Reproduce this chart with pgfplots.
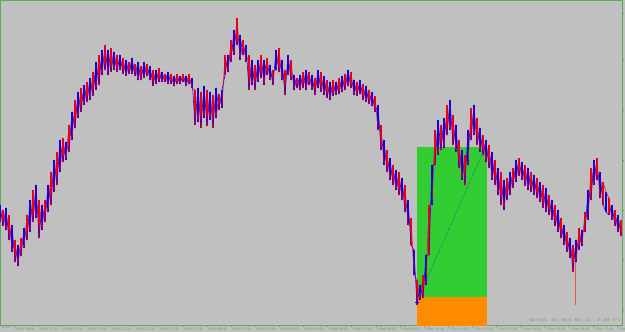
\documentclass[border=0pt]{standalone}
\usepackage{pgfplots}
\pgfplotsset{compat=1.18}
\usepackage{pgfplotstable}
\usepackage{fontspec}
\setmainfont{Liberation Sans}
\newfontfamily\monofont{Liberation Mono}
\definecolor{bg}{HTML}{C0C0C0}
\definecolor{axgreen}{HTML}{5DAA5D}
\definecolor{lgreen}{HTML}{32CD32}
\definecolor{dorange}{HTML}{FF8C00}
\definecolor{mtblue}{HTML}{0000FF}
\definecolor{mtred}{HTML}{FF0000}

\pgfplotstableread{
x t b
0 205 222
3 210 226
6 208 230
9 215 240
12 225 252
15 240 262
18 245 266
21 238 256
24 228 248
27 215 240
30 200 232
33 190 222
36 185 218
39 200 238
42 205 230
45 200 222
48 185 212
51 172 205
54 160 192
57 152 185
60 140 172
63 138 162
66 142 160
69 125 152
72 112 140
75 100 128
78 92 118
81 88 112
84 85 105
87 82 102
90 78 100
93 72 96
96 62 90
99 55 85
102 50 75
105 45 70
108 50 75
111 48 72
114 52 70
117 55 72
120 55 70
123 58 74
126 60 76
129 62 74
132 58 74
135 64 76
138 62 80
141 66 80
144 62 78
147 64 76
150 66 80
153 70 86
156 70 84
159 68 82
162 72 82
165 74 82
168 72 84
171 74 84
174 76 86
177 74 84
180 76 84
183 74 82
186 76 86
189 74 84
192 78 88
195 90 125
198 88 122
201 92 128
204 86 118
207 90 126
210 92 120
213 95 128
216 88 118
219 94 110
222 90 108
225 55 75
228 55 72
231 40 62
234 30 55
237 18 45
240 35 60
243 40 55
246 45 62
249 55 90
252 60 85
255 65 90
258 60 82
261 55 78
264 60 85
267 58 75
270 65 80
273 70 85
276 50 70
279 48 72
282 60 80
285 70 95
288 55 75
291 60 80
294 75 90
297 78 88
300 75 90
303 72 88
306 70 90
309 72 85
312 75 90
315 78 95
318 70 88
321 72 92
324 76 95
327 80 98
330 82 100
333 80 96
336 82 95
339 78 94
342 76 92
345 74 90
348 70 86
351 72 88
354 80 95
357 82 96
360 80 94
363 84 100
366 86 102
369 90 104
372 92 106
375 96 112
378 105 130
381 125 150
384 140 165
387 150 172
390 158 180
393 165 185
396 170 190
399 172 195
402 178 200
405 185 212
408 200 225
411 218 245
414 250 275
417 280 305
420 285 300
423 275 298
426 255 285
429 205 255
432 165 205
435 130 165
438 120 155
441 125 150
444 118 148
447 105 135
450 100 130
453 115 145
456 125 152
459 140 168
462 150 180
465 155 185
468 130 165
471 108 140
474 105 135
477 118 145
480 128 152
483 135 155
486 140 162
489 145 168
492 152 180
495 160 185
498 168 195
501 172 205
504 180 210
507 178 200
510 172 195
513 168 188
516 160 182
519 158 176
522 162 180
525 165 186
528 168 190
531 172 192
534 175 195
537 178 198
540 182 202
543 185 208
546 188 212
549 195 215
552 200 220
555 205 226
558 210 232
561 218 238
564 225 245
567 232 252
570 238 258
573 245 272
576 240 262
579 228 250
582 230 246
585 212 232
588 190 220
591 168 200
594 160 185
597 158 180
600 172 198
603 182 205
606 192 212
609 198 215
612 205 220
615 210 226
618 215 232
621 220 236
}\pricedata

\begin{document}
\begin{tikzpicture}
\fill[bg] (0,-7pt) rectangle (625pt,325pt);
\useasboundingbox (0,-7pt) rectangle (625pt,325pt);
\begin{axis}[
  at={(0,0)}, anchor=south west,
  scale only axis, width=622pt, height=325pt,
  xmin=0, xmax=622, ymin=0, ymax=325,
  y dir=reverse,
  axis line style={axgreen, line width=0.8pt},
  xtick={14,38.12,62.24,86.36,110.48,134.6,158.72,182.84,206.96,231.08,255.2,279.32,303.44,327.56,351.68,375.8,399.92,424.04,448.16,472.28,496.4,520.52,544.64,568.76,592.88,617},
  xticklabels={4 Dec 16:08,4 Dec 17:12,4 Dec 18:16,4 Dec 19:20,4 Dec 20:24,4 Dec 21:28,4 Dec 22:32,4 Dec 23:36,5 Dec 00:40,5 Dec 01:44,5 Dec 02:48,5 Dec 03:52,5 Dec 04:56,5 Dec 06:00,5 Dec 07:04,5 Dec 08:08,5 Dec 09:12,5 Dec 10:16,5 Dec 11:20,5 Dec 12:24,5 Dec 13:28,5 Dec 14:32,5 Dec 15:36,5 Dec 16:40,5 Dec 17:44,5 Dec 18:48},
  xticklabel style={anchor=north west, font=\fontsize{3.6}{4}\selectfont, text=axgreen, inner sep=0pt, yshift=-1.2pt, xshift=0.8pt},
  xtick pos=bottom, ytick pos=right,
  ytick={13,60,110,160,210,260,310}, yticklabels={},
  tick align=outside, major tick length=2pt,
  tick style={axgreen, line width=0.6pt},
  clip=true,
]
% trade zones
\addplot[draw=none, fill=lgreen, no markers] coordinates {(417,147) (487,147) (487,297) (417,297)} -- cycle;
\addplot[draw=none, fill=dorange, no markers] coordinates {(417,297) (487,297) (487,326) (417,326)} -- cycle;
\addplot[mtblue, densely dotted, line width=0.4pt, no markers] coordinates {(422,290) (484,150)};
% spike
\addplot[mtred!55!bg, line width=0.7pt, no markers] coordinates {(575,255) (575,305)};
% price bars
\addplot[draw=none, no markers, error bars/.cd, y dir=plus, y explicit, error mark=none,
  error bar style={draw=mtred, line width=1.1pt}]
  table[x=x, y=t, y error expr=\thisrow{b}-\thisrow{t}] {\pricedata};
\addplot[draw=none, no markers, each nth point=2, filter discard warning=false,
  error bars/.cd, y dir=plus, y explicit, error mark=none,
  error bar style={draw=mtblue, line width=1.1pt}]
  table[x=x, y=t, y error expr=\thisrow{b}-\thisrow{t}] {\pricedata};
\addplot[mtblue!80!mtred, line width=0.6pt, line join=round, line cap=round, no markers]
  table[x=x, y expr={mod(\coordindex,2)==0 ? \thisrow{t} : \thisrow{b}}] {\pricedata};
\addplot[mtred!85!mtblue, line width=0.5pt, line join=round, line cap=round, no markers]
  table[x=x, y expr={mod(\coordindex,2)==0 ? \thisrow{b} : \thisrow{t}}] {\pricedata};
\addplot[mtblue, only marks, mark=+, mark size=2pt, line width=0.5pt] coordinates {(417,302)};
\node[anchor=east, font=\monofont\fontsize{4.4}{5}\selectfont, text=black!45, inner sep=0pt] at (axis cs:621,320) {Spread: 46\ \ Next Bar in: 0-297 0-1};
\end{axis}
\node[anchor=north west, font=\fontsize{3.6}{4}\selectfont, text=axgreen, inner sep=0pt] at (-9.5pt,-1.2pt) {4 Dec 15:04};
\end{tikzpicture}
\end{document}
